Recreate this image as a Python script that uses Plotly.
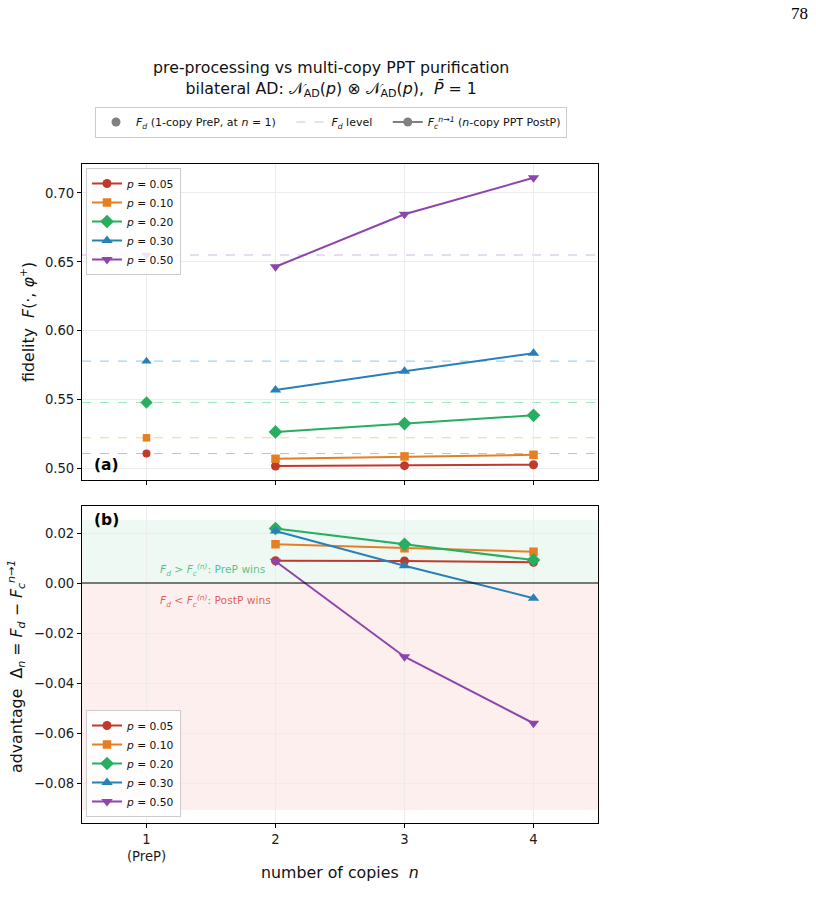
import plotly.graph_objects as go

# ---------------- data ----------------
n_pre = [1]
n_copies = [2, 3, 4]
p_labels = ["<i>p</i> = 0.05", "<i>p</i> = 0.10", "<i>p</i> = 0.20", "<i>p</i> = 0.30", "<i>p</i> = 0.50"]
colors = ["#c0392b", "#e67e22", "#27ae60", "#2980b9", "#8e44ad"]
dash_colors = ["rgba(231,76,60,0.45)", "rgba(243,156,18,0.45)", "rgba(46,204,113,0.45)",
               "rgba(52,152,219,0.45)", "rgba(155,89,182,0.45)"]
symbols = ["circle", "square", "diamond", "triangle-up", "triangle-down"]
msizes = [9, 8.5, 10.5, 10, 10]

# 1-copy PreP fidelity F_d for each p
Fd = [0.511, 0.5224, 0.548, 0.578, 0.655]

# n-copy PPT PostP fidelity F_c^{n->1} for n = 2, 3, 4
Fc_p005 = [0.5019, 0.5022, 0.5029]
Fc_p010 = [0.5072, 0.5089, 0.5101]
Fc_p020 = [0.5267, 0.5327, 0.5387]
Fc_p030 = [0.5570, 0.5707, 0.5837]
Fc_p050 = [0.6465, 0.6845, 0.7110]
Fc_all = [Fc_p005, Fc_p010, Fc_p020, Fc_p030, Fc_p050]

# advantage Delta_n = F_d - F_c^{n->1}
delta_p005 = [0.0089, 0.0088, 0.0083]
delta_p010 = [0.0155, 0.0139, 0.0125]
delta_p020 = [0.0218, 0.0155, 0.0092]
delta_p030 = [0.0208, 0.0069, -0.0061]
delta_p050 = [0.0087, -0.0295, -0.0561]
delta_all = [delta_p005, delta_p010, delta_p020, delta_p030, delta_p050]

x_tickvals = [1, 2, 3, 4]
x_ticktext = ["1<br>(PreP)", "2", "3", "4"]

# ---------------- layout geometry ----------------
W, H = 816, 920
L, R, T, B = 82, 598, 164, 823
PW, PH = R - L, B - T


def px_x(px):
    return (px - L) / PW


def px_y(py):
    return (B - py) / PH


FONT = "DejaVu Sans"
BIG = 15.8
NB = "\u00a0"

fig = go.Figure()

# ---------------- panel (a) ----------------
for i in range(5):
    fig.add_shape(type="line", xref="x domain", yref="y", x0=0, x1=1, y0=Fd[i], y1=Fd[i],
                  line=dict(color=dash_colors[i], width=1.1, dash="dash"), layer="below")
for i in range(5):
    fig.add_trace(go.Scatter(
        x=n_pre, y=[Fd[i]], mode="markers", xaxis="x", yaxis="y",
        marker=dict(symbol=symbols[i], size=msizes[i] - 1, color=colors[i]),
        showlegend=False, hoverinfo="skip"))
for i in range(5):
    fig.add_trace(go.Scatter(
        x=n_copies, y=Fc_all[i], mode="lines+markers", xaxis="x", yaxis="y",
        line=dict(color=colors[i], width=2),
        marker=dict(symbol=symbols[i], size=msizes[i], color=colors[i]),
        name=p_labels[i], legend="legend", hoverinfo="skip"))

# ---------------- panel (b) ----------------
fig.add_shape(type="rect", xref="x2 domain", yref="y2", x0=0, x1=1, y0=0, y1=0.0252,
              fillcolor="rgba(39,174,96,0.08)", line=dict(width=0), layer="below")
fig.add_shape(type="rect", xref="x2 domain", yref="y2", x0=0, x1=1, y0=-0.0908, y1=0,
              fillcolor="rgba(231,76,60,0.09)", line=dict(width=0), layer="below")
fig.add_shape(type="line", xref="x2 domain", yref="y2", x0=0, x1=1, y0=0, y1=0,
              line=dict(color="black", width=1.1))
for i in range(5):
    fig.add_trace(go.Scatter(
        x=n_copies, y=delta_all[i], mode="lines+markers", xaxis="x2", yaxis="y2",
        line=dict(color=colors[i], width=2),
        marker=dict(symbol=symbols[i], size=msizes[i], color=colors[i]),
        name=p_labels[i], legend="legend2", hoverinfo="skip"))

# ---------------- top (global) legend dummies ----------------
fig.add_trace(go.Scatter(x=[None], y=[None], mode="markers", xaxis="x", yaxis="y",
                         marker=dict(symbol="circle", size=9, color="#808080"),
                         name="<i>F<sub>d</sub></i> (1-copy PreP, at <i>n</i> = 1)" + NB * 3,
                         legend="legend3"))
fig.add_trace(go.Scatter(x=[None], y=[None], mode="lines", xaxis="x", yaxis="y",
                         line=dict(color="rgba(128,128,128,0.45)", width=1.1, dash="dash"),
                         name="<i>F<sub>d</sub></i> level" + NB * 3, legend="legend3"))
fig.add_trace(go.Scatter(x=[None], y=[None], mode="lines+markers", xaxis="x", yaxis="y",
                         line=dict(color="#808080", width=2),
                         marker=dict(symbol="circle", size=9, color="#808080"),
                         name="<i>F<sub>c</sub><sup>n→1</sup></i> (<i>n</i>-copy PPT PostP)",
                         legend="legend3"))

axis_common = dict(showline=True, linecolor="black", linewidth=1.2, mirror=True,
                   ticks="outside", ticklen=4, tickcolor="black", tickwidth=1,
                   showgrid=True, gridcolor="#ececec", gridwidth=1, zeroline=False,
                   tickfont=dict(family=FONT, size=13.2, color="#1a1a1a"))

top_dom = [px_y(480), 1.0]
bot_dom = [0.0, px_y(506)]

annotations = [
    dict(text="pre-processing vs multi-copy PPT purification<br>"
              "bilateral AD: 𝒩<sub>AD</sub>(<i>p</i>) ⊗ 𝒩<sub>AD</sub>(<i>p</i>),  <i>P̄</i> = 1",
         xref="paper", yref="paper", x=px_x(331), y=px_y(79), xanchor="center", yanchor="middle",
         showarrow=False, font=dict(family=FONT, size=BIG, color="#111")),
    dict(text="<b>(a)</b>", xref="x domain", yref="y domain", x=(92 - L) / PW, y=(480 - 465) / 316,
         xanchor="left", yanchor="middle", showarrow=False, font=dict(family=FONT, size=15.5, color="black")),
    dict(text="<b>(b)</b>", xref="x2 domain", yref="y2 domain", x=(92 - L) / PW, y=(823 - 520) / 317,
         xanchor="left", yanchor="middle", showarrow=False, font=dict(family=FONT, size=15.5, color="black")),
    dict(text="<i>F<sub>d</sub></i> > <i>F<sub>c</sub><sup>(n)</sup></i>: PreP wins",
         xref="x2", yref="y2", x=1.09, y=0.0052, xanchor="left", yanchor="middle", showarrow=False,
         font=dict(family=FONT, size=10.7, color="rgba(39,174,96,0.75)")),
    dict(text="<i>F<sub>d</sub></i> < <i>F<sub>c</sub><sup>(n)</sup></i>: PostP wins",
         xref="x2", yref="y2", x=1.09, y=-0.0072, xanchor="left", yanchor="middle", showarrow=False,
         font=dict(family=FONT, size=10.7, color="rgba(220,70,55,0.85)")),
    dict(text="fidelity  <i>F</i>(·, <i>φ</i><sup>+</sup>)", xref="paper", yref="paper",
         x=px_x(27), y=px_y(322), xanchor="center", yanchor="middle", textangle=-90, showarrow=False,
         font=dict(family=FONT, size=BIG, color="#111")),
    dict(text="advantage  Δ<sub><i>n</i></sub> = <i>F<sub>d</sub></i> − <i>F<sub>c</sub><sup>n→1</sup></i>",
         xref="paper", yref="paper", x=px_x(16), y=px_y(667), xanchor="center", yanchor="middle",
         textangle=-90, showarrow=False, font=dict(family=FONT, size=BIG, color="#111")),
    dict(text="number of copies  <i>n</i>", xref="paper", yref="paper", x=px_x(340), y=px_y(872),
         xanchor="center", yanchor="middle", showarrow=False, font=dict(family=FONT, size=BIG, color="#111")),
    dict(text="78", xref="paper", yref="paper", x=px_x(799), y=px_y(13), xanchor="center",
         yanchor="middle", showarrow=False, font=dict(family="Liberation Serif", size=17, color="black")),
]

legend_style = dict(bgcolor="rgba(255,255,255,0.85)", bordercolor="#cccccc", borderwidth=1,
                    font=dict(family=FONT, size=10.7, color="#111"), itemwidth=30,
                    tracegroupgap=0)

fig.update_layout(
    width=W, height=H,
    margin=dict(l=L, r=W - R, t=T, b=H - B, autoexpand=False),
    paper_bgcolor="white", plot_bgcolor="white",
    showlegend=True,
    xaxis=dict(domain=[0, 1], range=[0.5, 4.5], anchor="y", tickvals=x_tickvals,
               showticklabels=False, **axis_common),
    yaxis=dict(domain=top_dom, range=[0.4918, 0.7210], anchor="x", tickvals=[0.50, 0.55, 0.60, 0.65, 0.70],
               tickformat=".2f", **axis_common),
    xaxis2=dict(domain=[0, 1], range=[0.5, 4.5], anchor="y2", tickvals=x_tickvals,
                ticktext=x_ticktext, **axis_common),
    yaxis2=dict(domain=bot_dom, range=[-0.096, 0.0308], anchor="x2",
                tickvals=[-0.08, -0.06, -0.04, -0.02, 0.0, 0.02], tickformat=".2f", **axis_common),
    legend=dict(x=px_x(86), y=px_y(168), xanchor="left", yanchor="top", **legend_style),
    legend2=dict(x=px_x(86), y=px_y(817), xanchor="left", yanchor="bottom", **legend_style),
    legend3=dict(x=px_x(331), y=px_y(122), xanchor="center", yanchor="middle", orientation="h",
                 bgcolor="white", bordercolor="#cccccc", borderwidth=1,
                 font=dict(family=FONT, size=11, color="#111"), itemwidth=30),
    annotations=annotations,
)

fig.write_html("out.html")
